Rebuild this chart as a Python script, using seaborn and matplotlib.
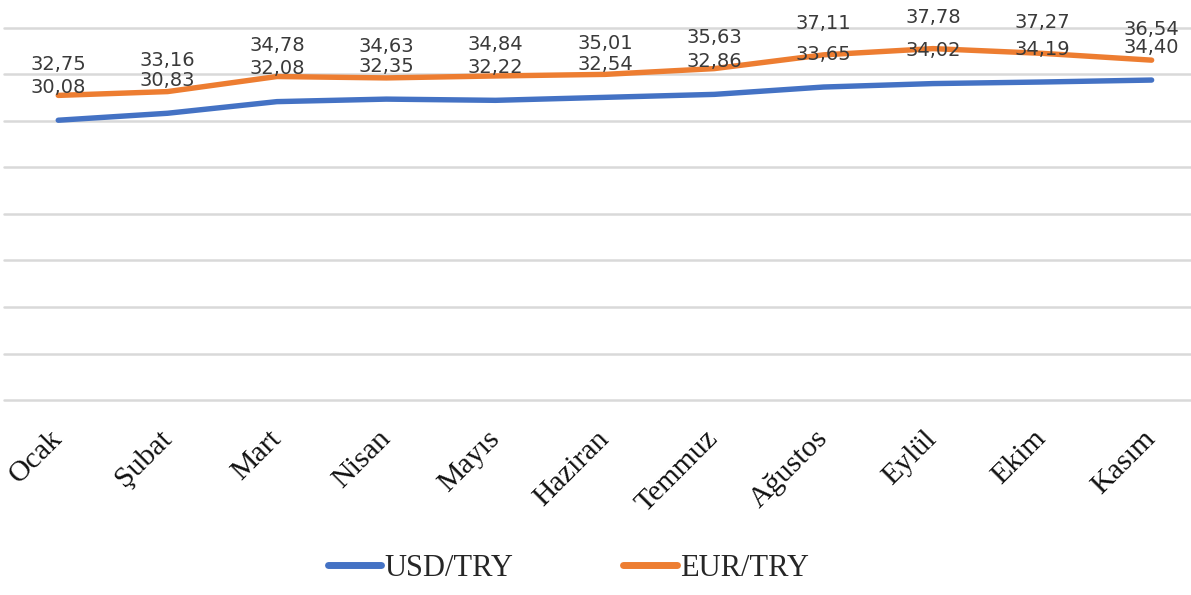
import matplotlib
matplotlib.use("Agg")
import matplotlib.pyplot as plt
import seaborn as sns
import pandas as pd
from matplotlib.lines import Line2D

months = ["Ocak", "Şubat", "Mart", "Nisan", "Mayıs", "Haziran",
          "Temmuz", "Ağustos", "Eylül", "Ekim", "Kasım"]
usd_try = [30.08, 30.83, 32.08, 32.35, 32.22, 32.54, 32.86, 33.65, 34.02, 34.19, 34.40]
eur_try = [32.75, 33.16, 34.78, 34.63, 34.84, 35.01, 35.63, 37.11, 37.78, 37.27, 36.54]
series_names = ["USD/TRY", "EUR/TRY"]
colors = {"USD/TRY": "#4472C4", "EUR/TRY": "#ED7D31"}

df = pd.DataFrame({
    "Ay": months * 2,
    "Kur": [series_names[0]] * len(months) + [series_names[1]] * len(months),
    "Değer": usd_try + eur_try,
})

sns.set_theme(style="white")
fig = plt.figure(figsize=(11.91, 5.95), dpi=100)
ax = fig.add_axes([0.003, 0.3277, 0.997, 0.6253])

sns.lineplot(data=df, x="Ay", y="Değer", hue="Kur", palette=colors,
             linewidth=3.9, sort=False, ax=ax, legend=False,
             solid_capstyle="round", solid_joinstyle="round")

ax.set_ylim(0, 40)
ax.set_xlim(-0.5, 10.36)
ax.set_yticks(range(0, 41, 5))
ax.yaxis.grid(True, color="#d9d9d9", linewidth=1.8)
ax.xaxis.grid(False)
ax.set_axisbelow(True)
for gl in ax.get_ygridlines():
    gl.set_clip_on(False)
for s in ax.spines.values():
    s.set_visible(False)
ax.tick_params(axis="y", left=False, labelleft=False)
ax.tick_params(axis="x", bottom=False, pad=19)
ax.set_xlabel("")
ax.set_ylabel("")

ax.set_xticks(range(len(months)))
ax.set_xticklabels(months, rotation=45, ha="right", va="center",
                   rotation_mode="anchor", fontsize=21.5,
                   family="Liberation Serif", color="#111111")

for i, (u, e) in enumerate(zip(usd_try, eur_try)):
    ax.annotate(f"{u:.2f}".replace(".", ","), (i, u), xytext=(0, 33),
                textcoords="offset pixels", ha="center", va="center",
                fontsize=14, color="#3a3a3a", family="DejaVu Sans")
    ax.annotate(f"{e:.2f}".replace(".", ","), (i, e), xytext=(0, 31),
                textcoords="offset pixels", ha="center", va="center",
                fontsize=14, color="#3a3a3a", family="DejaVu Sans")

handles = [Line2D([0], [0], color=colors[n], linewidth=5, solid_capstyle="round")
           for n in series_names]
fig.legend(handles, series_names, loc="center", bbox_to_anchor=(0.477, 0.045),
           ncol=2, frameon=False, handlelength=1.75, handletextpad=0.1,
           columnspacing=3.6, prop={"family": "Liberation Serif", "size": 22})

fig.savefig("out.png", dpi=100, facecolor="white")
